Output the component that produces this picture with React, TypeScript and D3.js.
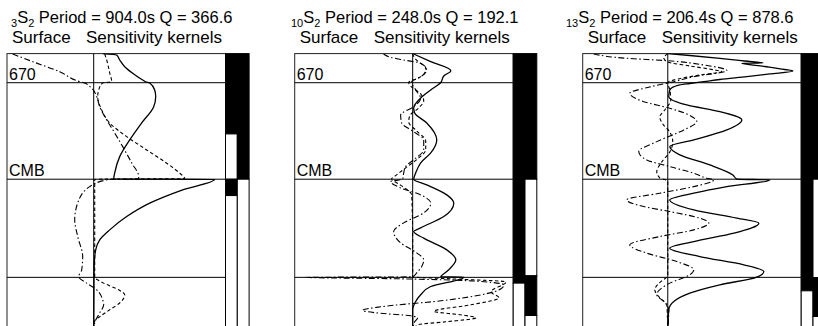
import * as d3 from 'd3';
import React, { useEffect, useRef } from 'react';

const WIDTH = 818;
const HEIGHT = 326;
const EARTH_RADIUS = 6371;

// mode labels
const modeOrders = ['3', '10', '13'];
const angularOrder = '2';
const periods = ['904.0', '248.0', '206.4'];
const qValues = ['366.6', '192.1', '878.6'];

// discontinuities (depth in km)
const boundaryDepths = [670, 2891, 5150];
const boundaryLabels = ['670', 'CMB', ''];

type Pt = [number, number]; // [depth km, kernel amplitude]
type Seg = [number, number, number]; // [top depth, bottom depth, filled]

// ---- 3S2 ----
const solid1: Pt[] = [
  [0, 0.09], [32, 0.23], [147, 0.26], [301, 0.31], [453, 0.39], [607, 0.49], [665, 0.54],
  [675, 0.56], [837, 0.61], [991, 0.62], [1221, 0.6], [1596, 0.48], [1987, 0.36], [2371, 0.26],
  [2746, 0.21], [2888, 0.2], [2894, 1.21], [3137, 0.89], [3443, 0.56], [3751, 0.33], [4057, 0.16],
  [4287, 0.06], [4517, 0.02], [4823, 0.006], [5207, 0.003], [6371, 0]
];
const dashed1: Pt[] = [
  [9, 0.11], [147, 0.13], [446, 0.16], [646, 0.18], [674, 0.09], [837, 0.05], [991, 0.04],
  [1297, 0.08], [1596, 0.16], [1911, 0.33], [2217, 0.53], [2523, 0.73], [2753, 0.86], [2877, 0.91],
  [2893, 0.01], [3200, 0.01], [4500, 0.01], [5140, 0.01], [5283, 0.1], [5437, 0.25], [5552, 0.31],
  [5740, 0.26], [5897, 0.16], [6058, 0.06], [6150, 0.01], [6371, 0]
];
const dashDot1: Pt[] = [
  [9, -0.81], [186, -0.61], [416, -0.34], [646, -0.14], [672, -0.1], [798, -0.02], [991, 0.03],
  [1221, 0.06], [1527, 0.13], [1826, 0.21], [2141, 0.29], [2516, 0.38], [2831, 0.45], [2888, 0.45],
  [2894, 0.16], [3061, -0.04], [3436, -0.16], [3827, -0.19], [4211, -0.16], [4671, -0.11],
  [4977, -0.12], [5131, -0.15], [5283, -0.07], [5437, 0.03], [5667, 0.09], [5782, 0.1],
  [5966, 0.06], [6196, 0.01], [6371, 0]
];
const bars1: Seg[][] = [
  [[0, 1849, 1], [1849, 2891, 0], [2891, 3268, 1], [3268, 6371, 0]],
  [[0, 2891, 1], [2891, 6371, 0]]
];

// ---- 10S2 ----
const solid2: Pt[] = [
  [9, 0.01], [186, 0.18], [393, 0.38], [515, 0.31], [665, 0.28], [837, 0.18], [1021, 0.08],
  [1251, 0.01], [1366, 0.02], [1596, 0.14], [1987, 0.24], [2286, 0.18], [2516, 0.08], [2746, 0.03],
  [2891, 0.01], [3022, 0.14], [3252, 0.34], [3443, 0.41], [3751, 0.31], [4011, 0.08], [4096, 0.01],
  [4248, 0.11], [4517, 0.34], [4747, 0.43], [5016, 0.34], [5136, 0.28], [5145, 0.51], [5361, 0.18],
  [5552, 0.08], [5706, 0.03], [5897, 0], [6371, 0]
];
const dashed2: Pt[] = [
  [0, 0], [101, 0.02], [193, 0.06], [331, 0.13], [446, 0.12], [561, 0.06], [667, -0.04],
  [745, -0.02], [929, 0.08], [1090, 0.11], [1251, 0.06], [1435, -0.03], [1573, -0.04], [1780, 0.04],
  [2010, 0.13], [2217, 0.13], [2401, 0.06], [2631, -0.07], [2792, -0.16], [2889, -0.21],
  [2999, -0.14], [3091, -0.08], [3252, -0.01], [4287, 0], [5138, 0], [5184, 0.38], [5253, 0.93],
  [5483, 0.78], [5621, 0.86], [5782, 0.58], [5932, 0.21], [6012, 0.48], [6081, 0.63],
  [6173, 0.33], [6242, 0.05], [6371, 0]
];
const dashDot2: Pt[] = [
  [9, -0.29], [85, -0.22], [147, -0.09], [223, 0.08], [377, 0.14], [531, 0.08], [646, -0.01],
  [837, 0.03], [1028, 0.08], [1221, 0.01], [1412, -0.12], [1596, -0.11], [1796, 0.01], [1987, 0.11],
  [2217, 0.11], [2408, 0.03], [2601, -0.07], [2753, -0.09], [2889, -0.1], [2946, -0.22],
  [3091, -0.12], [3252, 0.08], [3443, 0.18], [3666, 0.11], [3896, -0.09], [4096, -0.19],
  [4356, -0.12], [4586, 0.04], [4747, 0.11], [4901, 0.09], [5046, 0.04], [5138, 0],
  [5150, -1.06], [5184, -0.12], [5230, 0.58], [5322, 0.91], [5414, 0.88], [5529, 0.73],
  [5690, 0.28], [5828, -0.32], [5909, -0.5], [5966, -0.37], [6035, -0.02], [6081, 0.05],
  [6173, 0.02], [6371, 0]
];
const bars2: Seg[][] = [
  [[0, 5283, 1], [5283, 6371, 0]],
  [[0, 2891, 1], [2891, 5115, 0], [5115, 6028, 1], [6028, 6371, 0]]
];

// ---- 13S2 ----
const solid3: Pt[] = [
  [0, 0], [44, 0.22], [108, 0.52], [170, 0.77], [216, 0.95], [223, 0.74], [297, 0.97],
  [366, 1.17], [400, 1.25], [469, 1.02], [531, 0.79], [596, 0.52], [646, 0.36], [688, 0.22],
  [722, 0.12], [837, 0.02], [991, 0.01], [1182, 0.19], [1336, 0.52], [1527, 0.74], [1757, 0.59],
  [1987, 0.26], [2141, 0.02], [2332, 0.12], [2562, 0.42], [2792, 0.65], [2889, 0.69],
  [2907, 1.02], [3061, 0.59], [3213, 0.26], [3367, 0.02], [3597, 0.26], [3788, 0.69],
  [3903, 0.91], [4133, 0.66], [4326, 0.26], [4478, 0.02], [4671, 0.32], [4862, 0.76],
  [5016, 0.96], [5145, 0.89], [5322, 0.52], [5513, 0.22], [5706, 0.06], [5897, 0.01], [6371, 0]
];
const dashed3: Pt[] = [
  [0, 0], [101, -0.04], [193, 0], [285, 0.22], [377, 0.47], [412, 0.54], [492, 0.32],
  [584, 0.1], [669, 0], [837, 0.02], [1067, 0.03], [1297, -0.03], [1458, -0.08], [1619, -0.05],
  [1803, 0.02], [2033, 0.05], [2263, 0.02], [2493, -0.06], [2723, -0.11], [2861, -0.08],
  [2930, 0], [5115, 0], [5230, -0.06], [5437, -0.13], [5621, -0.08], [5782, -0.01], [6371, 0]
];
const dashDot3: Pt[] = [
  [9, -0.74], [108, -0.41], [163, -0.01], [262, 0.36], [393, 0.59], [531, 0.26], [646, 0.06],
  [768, -0.18], [913, -0.38], [1106, -0.24], [1258, 0.02], [1412, 0.21], [1566, 0.29],
  [1757, 0.16], [2026, -0.11], [2256, -0.29], [2447, -0.21], [2601, 0.02], [2753, 0.26],
  [2868, 0.39], [2907, 0.46], [3061, 0.26], [3213, -0.08], [3367, -0.41], [3521, -0.24],
  [3636, 0.02], [3788, 0.32], [3903, 0.41], [4057, 0.26], [4211, -0.08], [4402, -0.38],
  [4593, -0.21], [4786, 0.09], [4977, 0.26], [5092, 0.22], [5283, 0.02], [5552, -0.11],
  [5706, -0.04], [5897, 0.01], [6371, 0]
];
const bars3: Seg[][] = [
  [[0, 5460, 1], [5460, 6371, 0]],
  [[0, 2891, 1], [2891, 5154, 0], [5154, 6051, 1], [6051, 6371, 0]]
];

const panelKernels = [
  { solid: solid1, dashed: dashed1, dashDot: dashDot1, bars: bars1, domain: [-0.867, 1.318] },
  { solid: solid2, dashed: dashed2, dashDot: dashDot2, bars: bars2, domain: [-1.176, 1.002] },
  { solid: solid3, dashed: dashed3, dashDot: dashDot3, bars: bars3, domain: [-0.85, 1.333] }
];

// layout
const panelLeft = [7, 294.7, 582.7];
const titleX = [11, 291, 566];
const BOX_W = 218.5;
const BAR_W = 11.8;
const TOP = 53.6;
const BOTTOM = 330.4;
const FONT = 'Liberation Sans, Arial, Helvetica, sans-serif';

const App: React.FC = () => {
  const svgRef = useRef<SVGSVGElement>(null);

  useEffect(() => {
    if (!svgRef.current) { return; }
    const svg = d3.select(svgRef.current);
    svg.selectAll('*').remove();

    const yScale = d3.scaleLinear().domain([0, EARTH_RADIUS]).range([TOP, BOTTOM]);

    panelKernels.forEach((panel, i) => {
      const left = panelLeft[i];
      const xScale = d3.scaleLinear()
        .domain(panel.domain as [number, number])
        .range([left, left + BOX_W]);

      const g = svg.append('g');

      // titles
      const title = g.append('text')
        .attr('x', titleX[i])
        .attr('y', 23)
        .attr('font-family', FONT)
        .attr('font-size', 16.5)
        .attr('fill', '#000');
      title.append('tspan').attr('font-size', 11).attr('dy', 4).text(modeOrders[i]);
      title.append('tspan').attr('dy', -4).text('S');
      title.append('tspan').attr('font-size', 11).attr('dy', 4).text(angularOrder);
      title.append('tspan').attr('dy', -4)
        .text(` Period = ${periods[i]}s Q = ${qValues[i]}`);

      g.append('text')
        .attr('x', left + 5)
        .attr('y', 43)
        .attr('font-family', FONT)
        .attr('font-size', 17)
        .text('Surface');
      g.append('text')
        .attr('x', left + 79)
        .attr('y', 43)
        .attr('font-family', FONT)
        .attr('font-size', 17)
        .text('Sensitivity kernels');

      // clip for kernels
      const clipId = `clip-${i}`;
      svg.append('clipPath').attr('id', clipId)
        .append('rect')
        .attr('x', left).attr('y', TOP)
        .attr('width', BOX_W).attr('height', BOTTOM - TOP);

      // box
      g.append('rect')
        .attr('x', left).attr('y', TOP)
        .attr('width', BOX_W).attr('height', BOTTOM - TOP)
        .attr('fill', 'none')
        .attr('stroke', '#222')
        .attr('stroke-width', 1);

      // boundary lines
      boundaryDepths.forEach((dep, k) => {
        g.append('line')
          .attr('x1', left).attr('x2', left + BOX_W)
          .attr('y1', yScale(dep)).attr('y2', yScale(dep))
          .attr('stroke', '#000')
          .attr('stroke-width', 1);
        if (boundaryLabels[k]) {
          g.append('text')
            .attr('x', left + 2)
            .attr('y', yScale(dep) - 3)
            .attr('font-family', FONT)
            .attr('font-size', 16)
            .text(boundaryLabels[k]);
        }
      });

      // zero line
      g.append('line')
        .attr('x1', xScale(0)).attr('x2', xScale(0))
        .attr('y1', TOP).attr('y2', BOTTOM)
        .attr('stroke', '#000')
        .attr('stroke-width', 1);

      const line = d3.line<Pt>()
        .x(p => xScale(p[1]))
        .y(p => yScale(p[0]))
        .curve(d3.curveMonotoneY);

      const curves = g.append('g').attr('clip-path', `url(#${clipId})`);
      curves.append('path')
        .datum(panel.dashDot)
        .attr('fill', 'none')
        .attr('stroke', '#000')
        .attr('stroke-width', 1.1)
        .attr('stroke-dasharray', '6,2.5,1.5,2.5')
        .attr('d', line);
      curves.append('path')
        .datum(panel.dashed)
        .attr('fill', 'none')
        .attr('stroke', '#000')
        .attr('stroke-width', 1.1)
        .attr('stroke-dasharray', '3.5,2.5')
        .attr('d', line);
      curves.append('path')
        .datum(panel.solid)
        .attr('fill', 'none')
        .attr('stroke', '#000')
        .attr('stroke-width', 1.3)
        .attr('d', line);

      // side bars
      panel.bars.forEach((col, c) => {
        const bx = left + BOX_W + c * BAR_W;
        col.forEach(seg => {
          g.append('rect')
            .attr('x', bx)
            .attr('y', yScale(seg[0]))
            .attr('width', BAR_W)
            .attr('height', yScale(seg[1]) - yScale(seg[0]))
            .attr('fill', seg[2] ? '#000' : '#fff')
            .attr('stroke', '#000')
            .attr('stroke-width', 1);
        });
      });
    });
  }, []);

  return (
    <div style={{ position: 'absolute', left: 0, top: 0, background: '#fff' }}>
      <svg ref={svgRef} width={WIDTH} height={HEIGHT} style={{ display: 'block' }} />
    </div>
  );
};

export default App;
